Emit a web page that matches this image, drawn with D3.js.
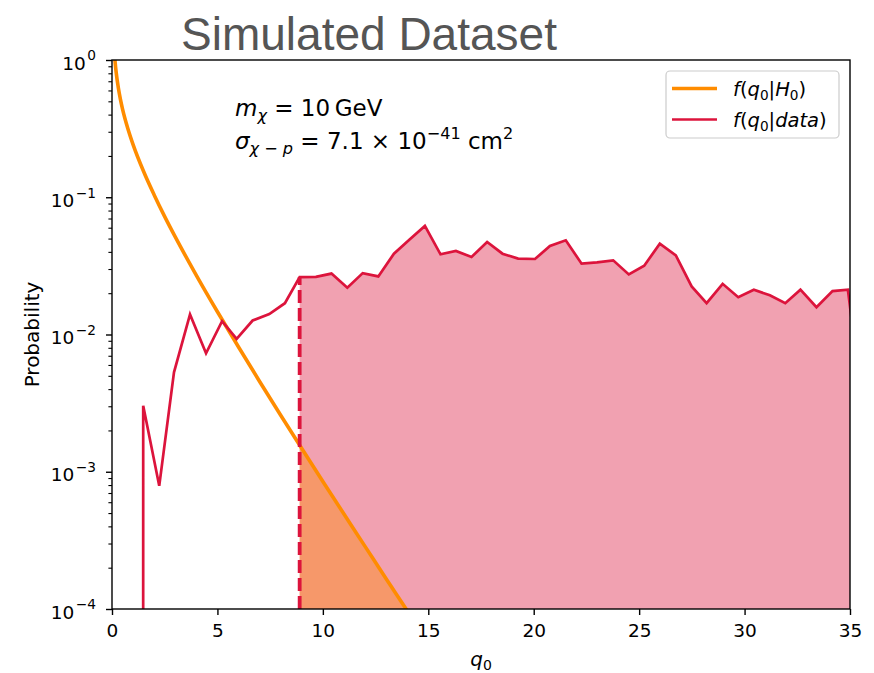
<!DOCTYPE html>
<html><head><meta charset="utf-8">
<script src="https://cdn.jsdelivr.net/npm/d3@7"></script>
<style>
body{margin:0;background:#fff;}
text{font-family:"DejaVu Sans",sans-serif;fill:#000;}
</style>
</head><body>
<svg id="chart" width="874" height="673"></svg>
<script>
// ---- data ----
const qNull = [0.12, 0.15, 0.2, 0.3, 0.4, 0.5, 0.75, 1, 1.5, 2, 2.5, 3, 4, 5, 6, 7, 8, 9, 10, 11, 12, 13, 14, 14.5];
const pNull = [1.085, 0.956, 0.807, 0.627, 0.517, 0.439, 0.317, 0.242, 0.154, 0.104, 0.0723, 0.0514, 0.0270, 0.01465, 0.00811, 0.00455, 0.00258, 0.001477, 0.00085, 0.000492, 0.000286, 0.000166, 0.0000972, 0.0000735];

const qData = [0.74, 1.48, 2.24, 2.94, 3.70, 4.46, 5.22, 5.91, 6.67, 7.46, 8.20, 8.90,
  9.67, 10.41, 11.16, 11.89, 12.63, 13.37, 14.10, 14.84, 15.58, 16.31, 17.05, 17.79,
  18.52, 19.26, 20.06, 20.77, 21.52, 22.27, 23.00, 23.77, 24.51, 25.24, 25.98, 26.74,
  27.49, 28.20, 28.96, 29.70, 30.44, 31.20, 31.93, 32.65, 33.41, 34.17, 34.90, 35.66];
const pData = [0, 0.00303, 0.00079, 0.0053, 0.0140, 0.0073, 0.0125, 0.0093, 0.01265, 0.0141, 0.0169, 0.0262,
  0.0263, 0.0278, 0.0219, 0.0280, 0.0265, 0.0388, 0.0491, 0.0618, 0.0384, 0.0406, 0.0367, 0.0472,
  0.0388, 0.0357, 0.0355, 0.0441, 0.0486, 0.0328, 0.0335, 0.0347, 0.0274, 0.0317, 0.0459, 0.0377,
  0.0224, 0.0169, 0.0234, 0.0187, 0.0212, 0.0193, 0.0169, 0.0212, 0.0158, 0.0207, 0.0212, 0.0025];
const qObs = 8.90;

const xTicks = [0, 5, 10, 15, 20, 25, 30, 35];
const yTicks = [1, 0.1, 0.01, 0.001, 0.0001];
const yTickExp = ["0", "\u22121", "\u22122", "\u22123", "\u22124"];
const titleText = "Simulated Dataset";
const yLabel = "Probability";
const colNull = "#FF8C00";
const colData = "#DC143C";

// ---- layout ----
const svg = d3.select("#chart");
const L = 112, T = 60, R = 850, B = 609;
const x = d3.scaleLinear().domain([0, 35]).range([L, R]);
const y = d3.scaleLog().domain([1e-4, 1]).range([B, T]);
const yy = p => p > 0 ? y(p) : B + 1e5;

svg.append("defs").append("clipPath").attr("id", "clip")
  .append("rect").attr("x", L).attr("y", T).attr("width", R - L).attr("height", B - T);

const plot = svg.append("g").attr("clip-path", "url(#clip)");

const dataPts = qData.map((q, i) => ({q, p: pData[i]}));
const nullPts = qNull.map((q, i) => ({q, p: pNull[i]}));

// pink area under data for q >= qObs
const fillData = dataPts.filter(d => d.q >= qObs - 1e-6);
plot.append("path")
  .attr("d", d3.area().x(d => x(d.q)).y0(B).y1(d => yy(d.p))(fillData))
  .attr("fill", colData).attr("fill-opacity", 0.4);

// orange area under null for q >= qObs
const iN = qNull.findIndex(q => q > qObs);
const t = (qObs - qNull[iN - 1]) / (qNull[iN] - qNull[iN - 1]);
const pStart = Math.pow(10, Math.log10(pNull[iN - 1]) + t * (Math.log10(pNull[iN]) - Math.log10(pNull[iN - 1])));
const fillNull = [{q: qObs, p: pStart}].concat(nullPts.filter(d => d.q > qObs));
plot.append("path")
  .attr("d", d3.area().x(d => x(d.q)).y0(B).y1(d => y(d.p)).curve(d3.curveMonotoneX)(fillNull))
  .attr("fill", colNull).attr("fill-opacity", 0.4);

// null curve
plot.append("path")
  .attr("d", d3.line().x(d => x(d.q)).y(d => y(d.p)).curve(d3.curveMonotoneX)(nullPts))
  .attr("fill", "none").attr("stroke", colNull).attr("stroke-width", 3.6);

// data line
plot.append("path")
  .attr("d", d3.line().x(d => x(d.q)).y(d => yy(d.p))(dataPts))
  .attr("fill", "none").attr("stroke", colData).attr("stroke-width", 2.7).attr("stroke-linejoin", "miter");

// dashed observed line
const pObs = pData[qData.findIndex(q => Math.abs(q - qObs) < 1e-6)];
plot.append("line")
  .attr("x1", x(qObs)).attr("x2", x(qObs)).attr("y1", B).attr("y2", y(pObs))
  .attr("stroke", colData).attr("stroke-width", 3.8).attr("stroke-dasharray", "13,5");

// ---- axes ----
const xAxis = svg.append("g").attr("transform", `translate(0,${B})`)
  .call(d3.axisBottom(x).tickValues(xTicks).tickSize(6).tickPadding(9).tickFormat(d3.format("d")));
xAxis.select(".domain").remove();
xAxis.selectAll("line").attr("stroke-width", 1.4);
xAxis.selectAll("text").attr("font-size", 18.5).attr("font-family", "DejaVu Sans").attr("fill", "#000");

const minor = [];
for (let e = -4; e < 0; e++) for (let k = 2; k <= 9; k++) minor.push(k * Math.pow(10, e));
const yMinor = svg.append("g").attr("transform", `translate(${L},0)`)
  .call(d3.axisLeft(y).tickValues(minor).tickSize(3.6).tickFormat(""));
yMinor.select(".domain").remove();
yMinor.selectAll("line").attr("stroke-width", 1.1);

const yAxis = svg.append("g").attr("transform", `translate(${L},0)`)
  .call(d3.axisLeft(y).tickValues(yTicks).tickSize(6).tickFormat(""));
yAxis.select(".domain").remove();
yAxis.selectAll("line").attr("stroke-width", 1.4);

// rich text helper (mathtext-like)
function rich(g, x0, y0, parts, size, anchor, supScale, supShift) {
  supScale = supScale || 0.7; supShift = supShift || 0.42;
  const tx = g.append("text").attr("x", x0).attr("y", y0).attr("font-size", size)
    .attr("text-anchor", anchor || "start");
  let cur = 0;
  parts.forEach(p => {
    const off = p.s === "sub" ? 0.22 * size : p.s === "sup" ? -supShift * size : 0;
    const ts = tx.append("tspan").text(p.t).attr("dy", off - cur);
    if (p.dx) ts.attr("dx", p.dx);
    cur = off;
    if (p.s) ts.attr("font-size", size * (p.s === "sup" ? supScale : 0.7));
    if (p.i) ts.attr("font-style", "italic");
  });
  return tx;
}

yTicks.forEach((v, i) => {
  rich(svg, 96, y(v) + 9.5, [{t: "10"}, {t: yTickExp[i], s: "sup", dx: 1.5}], 18.5, "end", 0.74, 0.5);
});

// frame
svg.append("rect").attr("x", L).attr("y", T).attr("width", R - L).attr("height", B - T)
  .attr("fill", "none").attr("stroke", "#000").attr("stroke-width", 1.4);

// labels
svg.append("text").attr("transform", `translate(39,${(T + B) / 2}) rotate(-90)`)
  .attr("text-anchor", "middle").attr("font-size", 20).text(yLabel);
rich(svg, (L + R) / 2, 666, [{t: "q", i: true}, {t: "0", s: "sub"}], 20, "middle");

svg.append("text").attr("x", 369).attr("y", 50).attr("text-anchor", "middle")
  .attr("font-size", 46)
  .style("font-family", "'Liberation Sans', Arial, sans-serif").style("fill", "#555555").text(titleText);

// annotations
rich(svg, 235, 115.5, [{t: "m", i: true}, {t: "\u03c7", i: true, s: "sub"}, {t: " = 10\u2009GeV"}], 23);
rich(svg, 235, 148.5, [{t: "\u03c3", i: true}, {t: "\u03c7", i: true, s: "sub"}, {t: " \u2212 ", s: "sub"}, {t: "p", i: true, s: "sub"},
  {t: " = 7.1 \u00d7 10"}, {t: "\u221241", s: "sup"}, {t: " cm"}, {t: "2", s: "sup"}], 23);

// legend
const lg = svg.append("g");
lg.append("rect").attr("x", 666).attr("y", 71).attr("width", 173).attr("height", 67).attr("rx", 4)
  .attr("fill", "#fff").attr("fill-opacity", 0.8).attr("stroke", "#cccccc").attr("stroke-width", 1.2);
const legItems = [
  {col: colNull, w: 3.6, parts: [{t: "f", i: true}, {t: "("}, {t: "q", i: true}, {t: "0", s: "sub"}, {t: "|"}, {t: "H", i: true}, {t: "0", s: "sub"}, {t: ")"}]},
  {col: colData, w: 2.7, parts: [{t: "f", i: true}, {t: "("}, {t: "q", i: true}, {t: "0", s: "sub"}, {t: "|"}, {t: "data", i: true}, {t: ")"}]}
];
legItems.forEach((it, i) => {
  const ly = 88.5 + i * 31;
  lg.append("line").attr("x1", 672).attr("x2", 717).attr("y1", ly).attr("y2", ly)
    .attr("stroke", it.col).attr("stroke-width", it.w);
  rich(lg, 733, ly + 7, it.parts, 19.5);
});
</script>
</body></html>
